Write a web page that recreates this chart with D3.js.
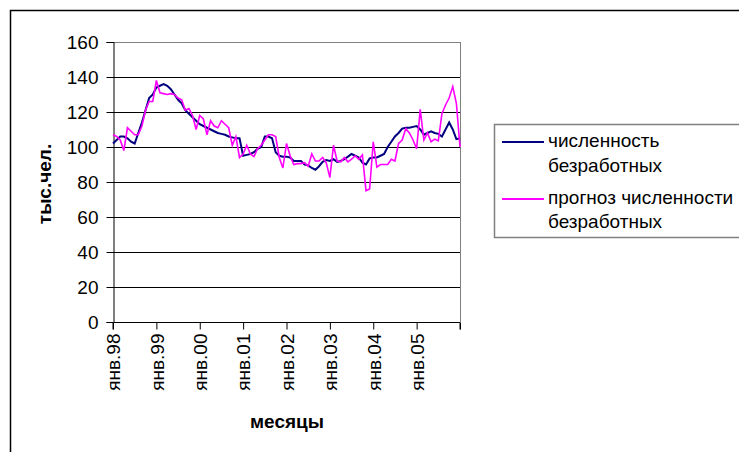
<!DOCTYPE html>
<html><head><meta charset="utf-8">
<script src="https://cdn.jsdelivr.net/npm/d3@7"></script>
<style>
body{margin:0;background:#fff;}
svg{display:block;font-family:Arial,"Liberation Sans",sans-serif;}
</style></head>
<body><svg id="c" width="739" height="452"></svg>
<script>
const tickLabels = ["янв.98","янв.99","янв.00","янв.01","янв.02","янв.03","янв.04","янв.05"];
const yTicks = [0,20,40,60,80,100,120,140,160];
const seriesNames = ["численность безработных","прогноз численности безработных"];
const actual = [102,104,106,106,105,103,102,108,114,121,128,130,134,135,136,135,133,130,127,125,
121,119,117,115,113,112,111,110,109,108,107.5,107,106,105.5,105,105,95,95.5,96,97,
99,100,106,106,105,97,95,94.5,94.5,94,92,92,92,90,89.5,88,87,89,91.5,92.5,
92,93,91.5,92,93,94.5,96,95,94,91,90,93.5,94,94,95,96,100,103,106,108,
110.5,111,111,111.5,112,110,107,108,109,108,107.5,106,110,114,110,104.5,105];
const forecast = [107,106,104,98,111,109,107,107,112,121,126,126,138,131,130.5,130,130.5,130,128,127,
121,122,118,110,118,116,107,115,112,111,115,113,111,101,106,94,96,101,96,94.5,
99,101,104,107,107,106,94,88,102,95,90,90.5,90.5,91,89,96,92,92,94,91,
82.5,101,92,91.5,94,91.5,93,95,93,95.5,75,76,103,88.5,90,90,90,93,92,102,
104,110.5,108,104,99,121.5,104,108,103,104.5,103.5,119,124,128,134.5,125,100];

const svg = d3.select("#c");
const x = d3.scaleLinear().domain([0,96]).range([113,460]);
const y = d3.scaleLinear().domain([0,160]).range([322,42]);

// outer frame
svg.append("rect").attr("x",10.5).attr("y",10.5).attr("width",800).attr("height",500)
  .attr("fill","none").attr("stroke","#000").attr("stroke-width",1.5);

// gridlines
svg.append("g").selectAll("line").data(yTicks.filter(d=>d>0)).join("line")
  .attr("x1",113).attr("x2",460).attr("y1",d=>Math.round(y(d))+0.5).attr("y2",d=>Math.round(y(d))+0.5)
  .attr("stroke",d=>d===160?"#808080":"#000").attr("stroke-width",1);
// right border
svg.append("line").attr("x1",460.5).attr("x2",460.5).attr("y1",y(160)).attr("y2",y(0))
  .attr("stroke","#808080").attr("stroke-width",1);

// axes
const yAxis = svg.append("g").attr("transform","translate(113.5,0)")
  .call(d3.axisLeft(y).tickValues(yTicks).tickSize(7).tickPadding(8));
const xAxis = svg.append("g").attr("transform",`translate(0,${Math.round(y(0))+0.5})`)
  .call(d3.axisBottom(x).tickValues(d3.range(0,97,12)).tickSize(7)
    .tickFormat((d,i)=>tickLabels[i]||""));
[yAxis,xAxis].forEach(a=>{
  a.select(".domain").attr("stroke","#000").attr("stroke-width",1);
  a.selectAll(".tick line").attr("stroke","#000");
  a.selectAll("text").attr("fill","#000").style("font-size","19px").style("font-family","Arial,'Liberation Sans',sans-serif");
});
xAxis.selectAll(".domain").attr("d",`M113,7V0H460V7`);
xAxis.selectAll(".tick text")
  .attr("transform","rotate(-90)").attr("text-anchor","end")
  .attr("x",-11).attr("y",0).attr("dy","0.36em");
yAxis.selectAll(".tick text").attr("dy","0.36em");

// lines
const line = d3.line().x((d,i)=>x(i)).y(d=>y(d));
svg.append("path").datum(actual).attr("d",line).attr("fill","none")
  .attr("stroke","#000080").attr("stroke-width",2);
svg.append("path").datum(forecast).attr("d",line).attr("fill","none")
  .attr("stroke","#ff00ff").attr("stroke-width",1.6);

// axis titles
svg.append("text").attr("transform","translate(51,184) rotate(-90)").attr("text-anchor","middle")
  .style("font-size","19px").style("font-weight","bold").text("тыс.чел.");
svg.append("text").attr("x",287).attr("y",428).attr("text-anchor","middle")
  .style("font-size","19px").style("font-weight","bold").text("месяцы");

// legend
const lg = svg.append("g");
lg.append("rect").attr("x",494.5).attr("y",124.5).attr("width",300).attr("height",113)
  .attr("fill","#fff").attr("stroke","#808080").attr("stroke-width",1.5);
const items = [
  {name:seriesNames[0], color:"#000080", ly:142, lines:["численность","безработных"], by:[147,172]},
  {name:seriesNames[1], color:"#ff00ff", ly:199, lines:["прогноз численности","безработных"], by:[204,228]}
];
items.forEach(it=>{
  lg.append("line").attr("x1",502).attr("x2",544).attr("y1",it.ly).attr("y2",it.ly)
    .attr("stroke",it.color).attr("stroke-width",2);
  it.lines.forEach((t,j)=>{
    lg.append("text").attr("x",548).attr("y",it.by[j]).style("font-size","19px").text(t);
  });
});
</script></body></html>
